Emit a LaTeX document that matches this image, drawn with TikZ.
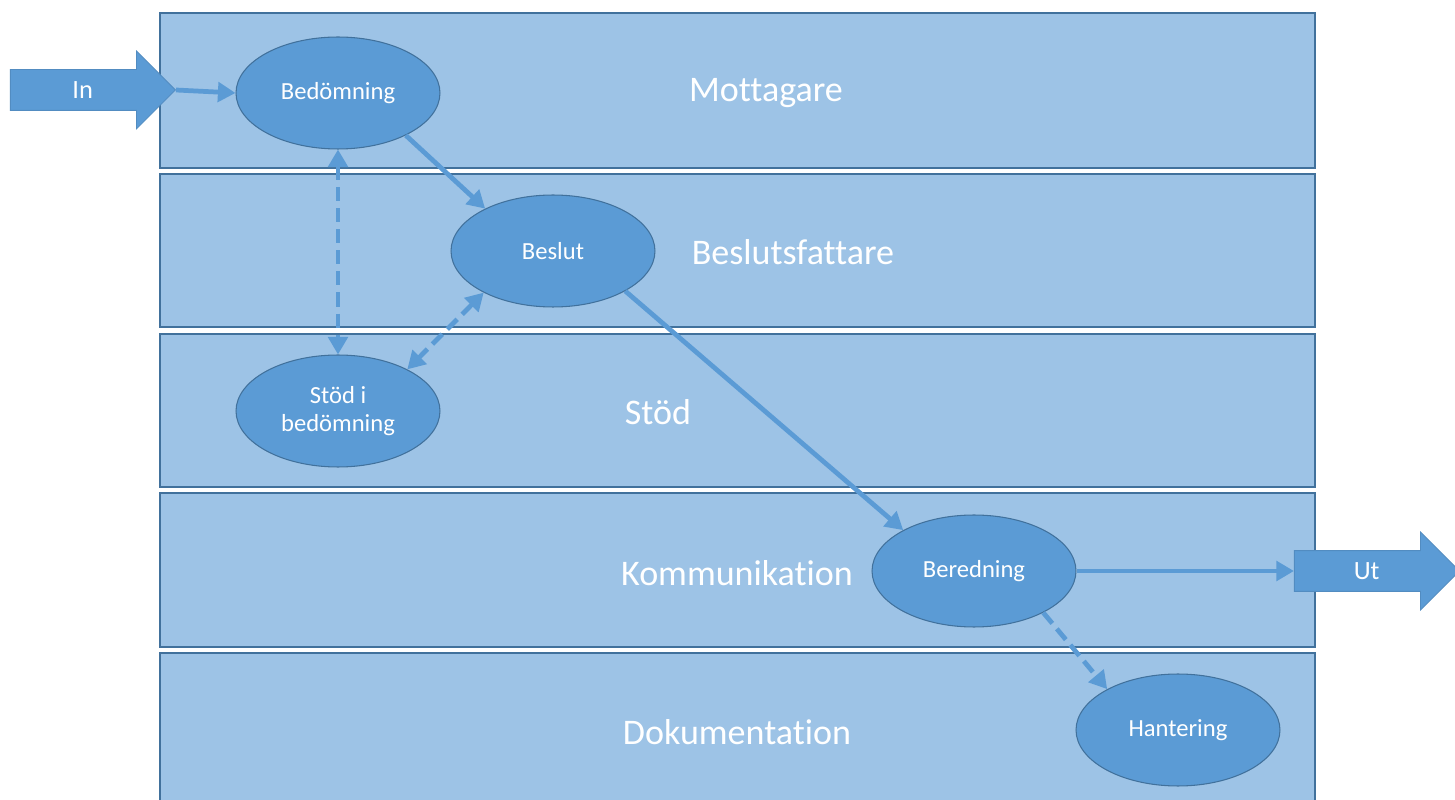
\documentclass[tikz,border=0pt]{standalone}
\usepackage{fontspec}
\setmainfont{Carlito}[Ligatures=NoCommon]
\usetikzlibrary{arrows.meta,positioning,shapes.geometric,shapes.arrows}
\definecolor{lanefill}{HTML}{9DC3E6}
\definecolor{laneline}{HTML}{41719C}
\definecolor{stepfill}{HTML}{5B9BD5}

\begin{document}
\begin{tikzpicture}[
  x=0.02cm, y=-0.02cm,
  lane/.style={draw=laneline, fill=lanefill, line width=0.8pt},
  lanetext/.style={text=white, font=\fontsize{20.5}{24}\selectfont},
  activity/.style={ellipse, draw=laneline, fill=stepfill, line width=0.6pt, minimum width=4.08cm, minimum height=2.24cm, inner sep=0pt, align=center, text=white, font=\fontsize{14}{16}\selectfont},
  bigarrow/.style={single arrow, single arrow head extend=0.37cm, fill=stepfill, draw=laneline!35!stepfill, line width=0.5pt, minimum height=3.3cm, text height=0.57cm, text depth=0.23cm, inner ysep=0pt, text=white, font=\fontsize{15}{18}\selectfont},
  flow/.style={-{Triangle[length=10pt,width=11pt]}, draw=stepfill, line width=2.7pt},
  dashflow/.style={flow, dash pattern=on 8pt off 4pt},
  link/.style={{Triangle[length=10pt,width=11pt]}-{Triangle[length=10pt,width=11pt]}, draw=stepfill, line width=2.7pt, dash pattern=on 8pt off 4pt}
]
  \useasboundingbox (0,0) rectangle (1455,800);

  \draw[lane] (160,13) rectangle (1315,168);
  \draw[lane] (160,174) rectangle (1315,327);
  \draw[lane] (160,334) rectangle (1315,487);
  \draw[lane] (160,493) rectangle (1315,647);
  \draw[lane] (160,653) rectangle (1315,812);

  \node[lanetext] (mottagare) at (766,93) {Mottagare};
  \node[lanetext] (beslutsfattare) at (793,252) {Beslutsfattare};
  \node[lanetext] (stodlane) at (658,412) {Stöd};
  \node[lanetext] (kommunikation) at (737,573) {Kommunikation};
  \node[lanetext] (dokumentation) at (737,732) {Dokumentation};

  \node[activity] (bedomning) at (338,93) {Bedömning};
  \node[activity] (beslut) at (553,251) {Beslut};
  \node[activity] (stod) at (338,411) {Stöd i\\bedömning};
  \node[activity] (beredning) at (974,571) {Beredning};
  \node[activity] (hantering) at (1178,730) {Hantering};

  \node[bigarrow, anchor=tip] (in) at (176,90) {In};
  \node[bigarrow, anchor=tip] (ut) at (1460,571) {Ut};

  \draw[flow] (in.tip) -- (bedomning.west);
  \draw[flow] (bedomning.-32) -- (beslut.148);
  \draw[link] (bedomning.south) -- (stod.north);
  \draw[link] (beslut.-149) -- (stod.31);
  \draw[flow] (beslut.-29) -- (beredning.150);
  \draw[flow] (beredning.east) -- (ut.tail);
  \draw[dashflow] (beredning.-31) -- (hantering.150);
\end{tikzpicture}
\end{document}
